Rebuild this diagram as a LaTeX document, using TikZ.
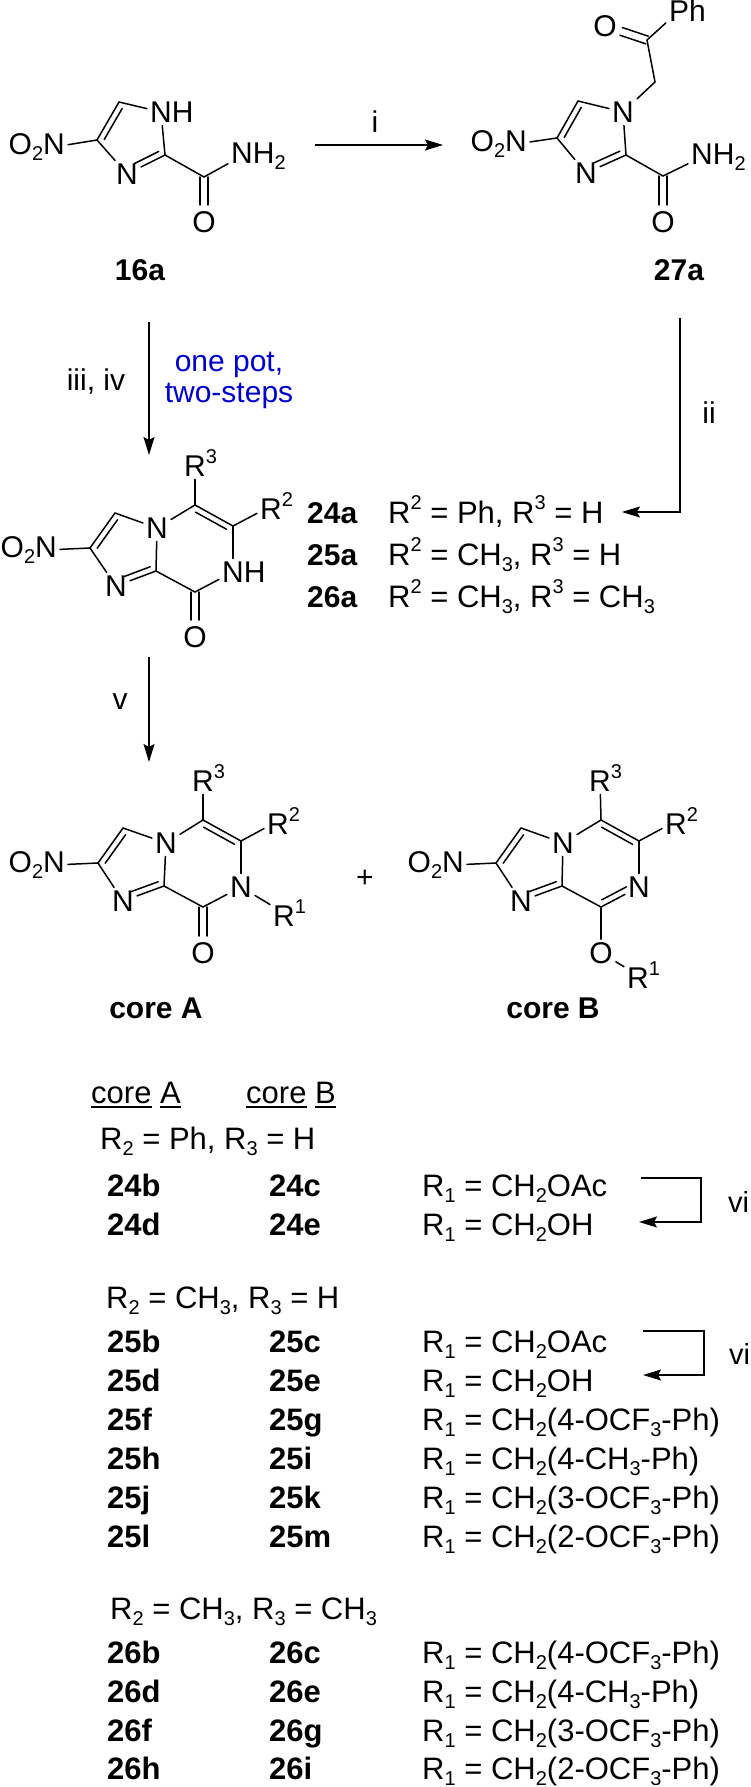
\documentclass[tikz,border=0pt]{standalone}
\usepackage{fontspec}
\setmainfont{Liberation Sans}
\usepackage{tikz}
\usepackage{color}
\usetikzlibrary{calc,arrows.meta}
\definecolor{potblue}{RGB}{0,0,205}
\newcommand{\dn}[1]{\raisebox{-.22em}{\fontsize{20}{20}\selectfont #1}}
\newcommand{\up}[1]{\raisebox{.42em}{\fontsize{20}{20}\selectfont #1}}
\newcommand{\ulword}[1]{\setbox0\hbox{#1}\rlap{\rule[-5pt]{\wd0}{1.6pt}}\box0\relax}
\newcommand{\inbond}[4][]{\draw[bond,shorten <=4pt,shorten >=4pt,#1] ($(#2)!6pt!#4*90:(#3)$) -- ($(#3)!6pt!-1*#4*90:(#2)$);}
\newcommand{\dbbond}[2]{
	\draw[bond,shorten >=17pt] ($(#1)!4pt!90:(#2)$) -- ($(#2)!4pt!-90:(#1)$);
	\draw[bond,shorten >=17pt] ($(#1)!4pt!-90:(#2)$) -- ($(#2)!4pt!90:(#1)$);
}
\tikzset{
	bond/.style={line width=1.5pt,line cap=round},
	rxn/.style={line width=1.5pt,-{Stealth[length=18pt,width=11pt,inset=3pt]}},
	atom/.style={inner sep=3pt,font=\fontsize{30}{30}\selectfont},
	cmpd/.style={inner sep=0pt,font=\fontsize{30}{30}\selectfont\bfseries},
	cond/.style={inner sep=0pt,font=\fontsize{30}{30}\selectfont},
	rowtext/.style={inner sep=0pt,anchor=base west,font=\fontsize{31}{31}\selectfont},
	rownum/.style={inner sep=0pt,anchor=base west,font=\fontsize{31}{31}\selectfont\bfseries}
}
\begin{document}
\begin{tikzpicture}[x=1pt,y=-1pt]
	\useasboundingbox (0,0) rectangle (750,1787);
	\coordinate (ac5) at (119,102);
	\coordinate (ac4) at (97,140);
	\coordinate (ac2) at (165,155);
	\coordinate (aco) at (204,177);
	\node[atom] (an1) at (161,112) {N\rlap{H}};
	\node[atom] (an3) at (127,174) {N};
	\node[atom] (ao) at (204,222) {O};
	\node[atom] (anh2) at (242,156) {N\rlap{H\dn{2}}};
	\node[atom] (ano2) at (54,147) {\llap{O\dn{2}}N};
	\draw[bond] (ac5) -- (ac4);
	\inbond{ac5}{ac4}{1}
	\draw[bond] (ac5) -- (an1);
	\draw[bond] (an1) -- (ac2);
	\draw[bond] (ac2) -- (an3);
	\inbond[shorten <=11pt]{an3}{ac2}{1}
	\draw[bond] (an3) -- (ac4);
	\draw[bond] (ac4) -- (ano2);
	\draw[bond] (ac2) -- (aco);
	\draw[bond] (aco) -- (anh2);
	\dbbond{aco}{ao}
	\node[cmpd] (l16a) at (140,270) {16a};

	\coordinate (ai) at (315,145);
	\coordinate (bi) at (443,145);
	\draw[rxn] (ai) -- (bi);
	\node[cond] (li) at (375,122) {i};

	\coordinate (bc5) at (578,101);
	\coordinate (bc4) at (557,138);
	\coordinate (bc2) at (626,155);
	\coordinate (bco) at (663,176);
	\coordinate (bch2) at (655,82);
	\coordinate (bcbz) at (647,40);
	\node[atom] (bn1) at (623,112) {N};
	\node[atom] (bn3) at (586,173) {N};
	\node[atom] (bo) at (663,222) {O};
	\node[atom] (boo) at (605,26) {O};
	\node[atom] (bph) at (679,11) {P\rlap{h}};
	\node[atom] (bnh2) at (702,157) {N\rlap{H\dn{2}}};
	\node[atom] (bno2) at (516,144) {\llap{O\dn{2}}N};
	\draw[bond] (bc5) -- (bc4);
	\inbond{bc5}{bc4}{1}
	\draw[bond] (bc5) -- (bn1);
	\draw[bond] (bn1) -- (bc2);
	\draw[bond] (bc2) -- (bn3);
	\inbond[shorten <=11pt]{bn3}{bc2}{1}
	\draw[bond] (bn3) -- (bc4);
	\draw[bond] (bc4) -- (bno2);
	\draw[bond] (bc2) -- (bco);
	\draw[bond] (bco) -- (bnh2);
	\dbbond{bco}{bo}
	\draw[bond] (bn1) -- (bch2);
	\draw[bond] (bch2) -- (bcbz);
	\draw[bond] (bcbz) -- (bph);
	\dbbond{bcbz}{boo}
	\node[cmpd] (l27a) at (679,270) {27a};

	\coordinate (aiii) at (149,322);
	\coordinate (biii) at (149,455);
	\draw[rxn] (aiii) -- (biii);
	\node[cond] (liii) at (96,382) {iii, iv};
	\node[cond,text=potblue] (lpot) at (229,365) {one pot,};
	\node[cond,text=potblue] (lstep) at (229,396) {two-steps};

	\coordinate (aii) at (680,318);
	\coordinate (cii) at (680,512);
	\coordinate (bii) at (622,512);
	\draw[rxn] (aii) -- (cii) -- (bii);
	\node[cond] (lii) at (709,413) {ii};

	\coordinate (cc2) at (90,548);
	\coordinate (cc3) at (115,513);
	\coordinate (cc8a) at (156,571);
	\coordinate (cco) at (195,592);
	\coordinate (cc7) at (233,526);
	\coordinate (cc6) at (195,505);
	\node[atom] (cn4) at (157,528) {N};
	\node[atom] (cn1) at (116,586) {N};
	\node[atom] (co) at (195,637) {O};
	\node[atom] (cnh) at (233,572) {N\rlap{H}};
	\node[atom] (cno2) at (46,550) {\llap{O\dn{2}}N};
	\node[atom] (cr3) at (195,463) {R\rlap{\up{3}}};
	\node[atom] (cr2) at (271,506) {R\rlap{\up{2}}};
	\draw[bond] (cc3) -- (cc2);
	\inbond{cc3}{cc2}{1}
	\draw[bond] (cc3) -- (cn4);
	\draw[bond] (cn4) -- (cc8a);
	\draw[bond] (cc8a) -- (cn1);
	\inbond[shorten <=11pt]{cn1}{cc8a}{1}
	\draw[bond] (cn1) -- (cc2);
	\draw[bond] (cc2) -- (cno2);
	\draw[bond] (cc8a) -- (cco);
	\draw[bond] (cco) -- (cnh);
	\draw[bond] (cnh) -- (cc7);
	\draw[bond] (cc7) -- (cc6);
	\inbond{cc7}{cc6}{1}
	\draw[bond] (cc6) -- (cn4);
	\draw[bond] (cc6) -- (cr3);
	\draw[bond] (cc7) -- (cr2);
	\dbbond{cco}{co}

	\node[rownum,font=\fontsize{30}{30}\selectfont\bfseries] (l24a) at (307,523) {24a};
	\node[rownum,font=\fontsize{30}{30}\selectfont\bfseries] (l25a) at (307,565) {25a};
	\node[rownum,font=\fontsize{30}{30}\selectfont\bfseries] (l26a) at (307,607) {26a};
	\node[rowtext] (t24a) at (388,523) {R\up{2} = Ph, R\up{3} = H};
	\node[rowtext] (t25a) at (388,565) {R\up{2} = CH\dn{3}, R\up{3} = H};
	\node[rowtext] (t26a) at (388,607) {R\up{2} = CH\dn{3}, R\up{3} = CH\dn{3}};

	\coordinate (av) at (149,657);
	\coordinate (bv) at (149,762);
	\draw[rxn] (av) -- (bv);
	\node[cond] (lv) at (120,702) {v};

	\coordinate (dc2) at (98,863);
	\coordinate (dc3) at (123,828);
	\coordinate (dc8a) at (164,886);
	\coordinate (dco) at (203,907);
	\coordinate (dc6) at (241,841);
	\coordinate (dc5) at (203,820);
	\node[atom] (dn4) at (166,843) {N};
	\node[atom] (dn1) at (123,901) {N};
	\node[atom] (do) at (203,953) {O};
	\node[atom] (dn7) at (241,887) {N};
	\node[atom] (dno2) at (54,865) {\llap{O\dn{2}}N};
	\node[atom] (dr3) at (203,778) {R\rlap{\up{3}}};
	\node[atom] (dr2) at (278,821) {R\rlap{\up{2}}};
	\node[atom] (dr1) at (284,913) {R\rlap{\up{1}}};
	\draw[bond] (dc3) -- (dc2);
	\inbond{dc3}{dc2}{1}
	\draw[bond] (dc3) -- (dn4);
	\draw[bond] (dn4) -- (dc8a);
	\draw[bond] (dc8a) -- (dn1);
	\inbond[shorten <=11pt]{dn1}{dc8a}{1}
	\draw[bond] (dn1) -- (dc2);
	\draw[bond] (dc2) -- (dno2);
	\draw[bond] (dc8a) -- (dco);
	\draw[bond] (dco) -- (dn7);
	\draw[bond] (dn7) -- (dc6);
	\draw[bond] (dc6) -- (dc5);
	\inbond{dc6}{dc5}{1}
	\draw[bond] (dc5) -- (dn4);
	\draw[bond] (dc5) -- (dr3);
	\draw[bond] (dc6) -- (dr2);
	\draw[bond] (dn7) -- (dr1);
	\dbbond{dco}{do}
	\node[cmpd] (lcorea) at (156,1008) {core A};

	\node[atom] (plus) at (365,879) {+};

	\coordinate (ec2) at (496,863);
	\coordinate (ec3) at (521,828);
	\coordinate (ec8a) at (562,886);
	\coordinate (ec8) at (601,907);
	\coordinate (ec6) at (639,841);
	\coordinate (ec5) at (601,820);
	\node[atom] (en4) at (563,843) {N};
	\node[atom] (en1) at (521,901) {N};
	\node[atom] (eo) at (601,953) {O};
	\node[atom] (en7) at (639,887) {N};
	\node[atom] (eno2) at (453,865) {\llap{O\dn{2}}N};
	\node[atom] (er3) at (600,778) {R\rlap{\up{3}}};
	\node[atom] (er2) at (676,821) {R\rlap{\up{2}}};
	\node[atom] (er1) at (638,975) {R\rlap{\up{1}}};
	\draw[bond] (ec3) -- (ec2);
	\inbond{ec3}{ec2}{1}
	\draw[bond] (ec3) -- (en4);
	\draw[bond] (en4) -- (ec8a);
	\draw[bond] (ec8a) -- (en1);
	\inbond[shorten <=11pt]{en1}{ec8a}{1}
	\draw[bond] (en1) -- (ec2);
	\draw[bond] (ec2) -- (eno2);
	\draw[bond] (ec8a) -- (ec8);
	\draw[bond] (ec8) -- (en7);
	\inbond[shorten >=11pt]{ec8}{en7}{1}
	\draw[bond] (en7) -- (ec6);
	\draw[bond] (ec6) -- (ec5);
	\inbond{ec6}{ec5}{1}
	\draw[bond] (ec5) -- (en4);
	\draw[bond] (ec5) -- (er3);
	\draw[bond] (ec6) -- (er2);
	\draw[bond] (ec8) -- (eo);
	\draw[bond] (eo) -- (er1);
	\node[cmpd] (lcoreb) at (553,1008) {core B};

	\node[rowtext] (hcorea) at (91,1103) {\ulword{core} \ulword{A}};
	\node[rowtext] (hcoreb) at (246,1103) {\ulword{core} \ulword{B}};

	\node[rowtext] (h24) at (100,1149) {R\dn{2} = Ph, R\dn{3} = H};
	\node[rownum] (n24b) at (107,1196) {24b};
	\node[rownum] (n24c) at (269,1196) {24c};
	\node[rowtext] (t24b) at (422,1196) {R\dn{1} = CH\dn{2}OAc};
	\node[rownum] (n24d) at (107,1235) {24d};
	\node[rownum] (n24e) at (269,1235) {24e};
	\node[rowtext] (t24d) at (422,1235) {R\dn{1} = CH\dn{2}OH};
	\coordinate (avi) at (641,1178);
	\coordinate (cvi) at (701,1178);
	\coordinate (dvi) at (701,1222);
	\coordinate (bvi) at (639,1222);
	\draw[rxn] (avi) -- (cvi) -- (dvi) -- (bvi);
	\node[rowtext,font=\fontsize{29}{29}\selectfont] (lvi) at (728,1212) {vi};

	\node[rowtext] (h25) at (106,1308) {R\dn{2} = CH\dn{3}, R\dn{3} = H};
	\node[rownum] (n25b) at (107,1352) {25b};
	\node[rownum] (n25c) at (269,1352) {25c};
	\node[rowtext] (t25b) at (422,1352) {R\dn{1} = CH\dn{2}OAc};
	\node[rownum] (n25d) at (107,1391) {25d};
	\node[rownum] (n25e) at (269,1391) {25e};
	\node[rowtext] (t25d) at (422,1391) {R\dn{1} = CH\dn{2}OH};
	\coordinate (awi) at (643,1331);
	\coordinate (cwi) at (704,1331);
	\coordinate (dwi) at (704,1375);
	\coordinate (bwi) at (643,1375);
	\draw[rxn] (awi) -- (cwi) -- (dwi) -- (bwi);
	\node[rowtext,font=\fontsize{29}{29}\selectfont] (lwi) at (729,1364) {vi};
	\node[rownum] (n25f) at (107,1430) {25f};
	\node[rownum] (n25g) at (269,1430) {25g};
	\node[rowtext] (t25f) at (422,1430) {R\dn{1} = CH\dn{2}(4-OCF\dn{3}-Ph)};
	\node[rownum] (n25h) at (107,1469) {25h};
	\node[rownum] (n25i) at (269,1469) {25i};
	\node[rowtext] (t25h) at (422,1469) {R\dn{1} = CH\dn{2}(4-CH\dn{3}-Ph)};
	\node[rownum] (n25j) at (107,1508) {25j};
	\node[rownum] (n25k) at (269,1508) {25k};
	\node[rowtext] (t25j) at (422,1508) {R\dn{1} = CH\dn{2}(3-OCF\dn{3}-Ph)};
	\node[rownum] (n25l) at (107,1547) {25l};
	\node[rownum] (n25m) at (269,1547) {25m};
	\node[rowtext] (t25l) at (422,1547) {R\dn{1} = CH\dn{2}(2-OCF\dn{3}-Ph)};

	\node[rowtext] (h26) at (110,1619) {R\dn{2} = CH\dn{3}, R\dn{3} = CH\dn{3}};
	\node[rownum] (n26b) at (107,1663) {26b};
	\node[rownum] (n26c) at (269,1663) {26c};
	\node[rowtext] (t26b) at (422,1663) {R\dn{1} = CH\dn{2}(4-OCF\dn{3}-Ph)};
	\node[rownum] (n26d) at (107,1702) {26d};
	\node[rownum] (n26e) at (269,1702) {26e};
	\node[rowtext] (t26d) at (422,1702) {R\dn{1} = CH\dn{2}(4-CH\dn{3}-Ph)};
	\node[rownum] (n26f) at (107,1741) {26f};
	\node[rownum] (n26g) at (269,1741) {26g};
	\node[rowtext] (t26f) at (422,1741) {R\dn{1} = CH\dn{2}(3-OCF\dn{3}-Ph)};
	\node[rownum] (n26h) at (107,1779) {26h};
	\node[rownum] (n26i) at (269,1779) {26i};
	\node[rowtext] (t26h) at (422,1779) {R\dn{1} = CH\dn{2}(2-OCF\dn{3}-Ph)};
\end{tikzpicture}
\end{document}
